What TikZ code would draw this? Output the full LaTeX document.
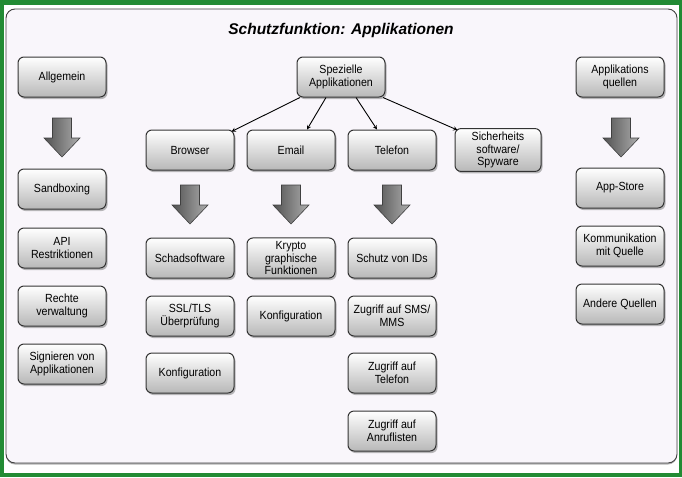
\documentclass[tikz,border=0pt]{standalone}
\usepackage{fontspec}
\setmainfont{Liberation Sans}
\newfontfamily\boxfont{Liberation Sans}[FakeStretch=0.9]
\usetikzlibrary{shadows}

\definecolor{framegreen}{RGB}{34,139,52}
\definecolor{panelbg}{RGB}{249,246,251}

\tikzset{
  box/.style={draw=black!80, line width=1pt, rounded corners=6pt,
    top color=white, bottom color=black!28,
    minimum width=88pt, minimum height=40pt, align=center,
    font=\boxfont\fontsize{11.8}{12.6}\selectfont,
    drop shadow={shadow xshift=1.5pt, shadow yshift=-2pt, opacity=0.55}},
  bigarrow/.pic={
    \shade[draw=black!75, line width=0.6pt, left color=black!68, right color=black!32]
      (-9.5,-20) -- (9.5,-20) -- (9.5,0) -- (18,0) -- (0,19)
      -- (-18,0) -- (-9.5,0) -- cycle;
  },
  conn/.style={-stealth, line width=0.9pt}
}

\begin{document}
\begin{tikzpicture}[x=1pt,y=-1pt]
  \useasboundingbox (0,0) rectangle (682,477);
  % frame and panel
  \fill[framegreen] (0,0) rectangle (682,477);
  \fill[white] (4,5) rectangle (679,473);
  \filldraw[panelbg, draw=black!75, line width=0.9pt, rounded corners=9pt,
    drop shadow={shadow xshift=0pt, shadow yshift=-1.5pt, opacity=0.6}]
    (6,9) rectangle (677,463);
  \node[font=\fontsize{15.5}{18}\selectfont\bfseries\itshape] (title) at (341,30) {Schutzfunktion: Applikationen};

  % left column
  \node[box] (allg) at (62,77) {Allgemein};
  \pic at (62,138) {bigarrow};
  \node[box] (sandbox) at (62,189) {Sandboxing};
  \node[box] (api) at (62,248) {API\\Restriktionen};
  \node[box] (rechte) at (62,306) {Rechte\\verwaltung};
  \node[box] (sign) at (62,364) {Signieren von\\Applikationen};

  % middle
  \node[box] (spez) at (341,77) {Spezielle\\Applikationen};
  \node[box] (browser) at (190,150) {Browser};
  \node[box] (email) at (291,150) {Email};
  \node[box] (telefon) at (392,150) {Telefon};
  \node[box, minimum width=86pt] (sicher) at (498,150) {Sicherheits\\software/\\Spyware};

  \draw[conn] ([xshift=-41pt]spez.south) -- ([xshift=-3pt,yshift=-2pt]browser.north east);
  \draw[conn] ([xshift=-15pt]spez.south) -- ([xshift=16pt]email.north);
  \draw[conn] ([xshift=15pt]spez.south) -- ([xshift=-15pt]telefon.north);
  \draw[conn] ([xshift=42pt]spez.south) -- ([xshift=3pt,yshift=-2pt]sicher.north west);

  \pic at (190,205) {bigarrow};
  \pic at (291,205) {bigarrow};
  \pic at (392,205) {bigarrow};

  \node[box] (schad) at (190,258) {Schadsoftware};
  \node[box] (ssl) at (190,316) {SSL/TLS\\Überprüfung};
  \node[box] (konfb) at (190,373) {Konfiguration};

  \node[box] (krypto) at (291,258) {Krypto\\graphische\\Funktionen};
  \node[box] (konfe) at (291,316) {Konfiguration};

  \node[box] (ids) at (392,258) {Schutz von IDs};
  \node[box] (sms) at (392,316) {Zugriff auf SMS/\\MMS};
  \node[box] (tel) at (392,373) {Zugriff auf\\Telefon};
  \node[box] (anruf) at (392,431) {Zugriff auf\\Anruflisten};

  % right column
  \node[box] (quellen) at (620,77) {Applikations\\quellen};
  \pic at (621,138) {bigarrow};
  \node[box] (store) at (620,188) {App-Store};
  \node[box] (komm) at (620,246) {Kommunikation\\mit Quelle};
  \node[box] (andere) at (620,304) {Andere Quellen};
\end{tikzpicture}
\end{document}
